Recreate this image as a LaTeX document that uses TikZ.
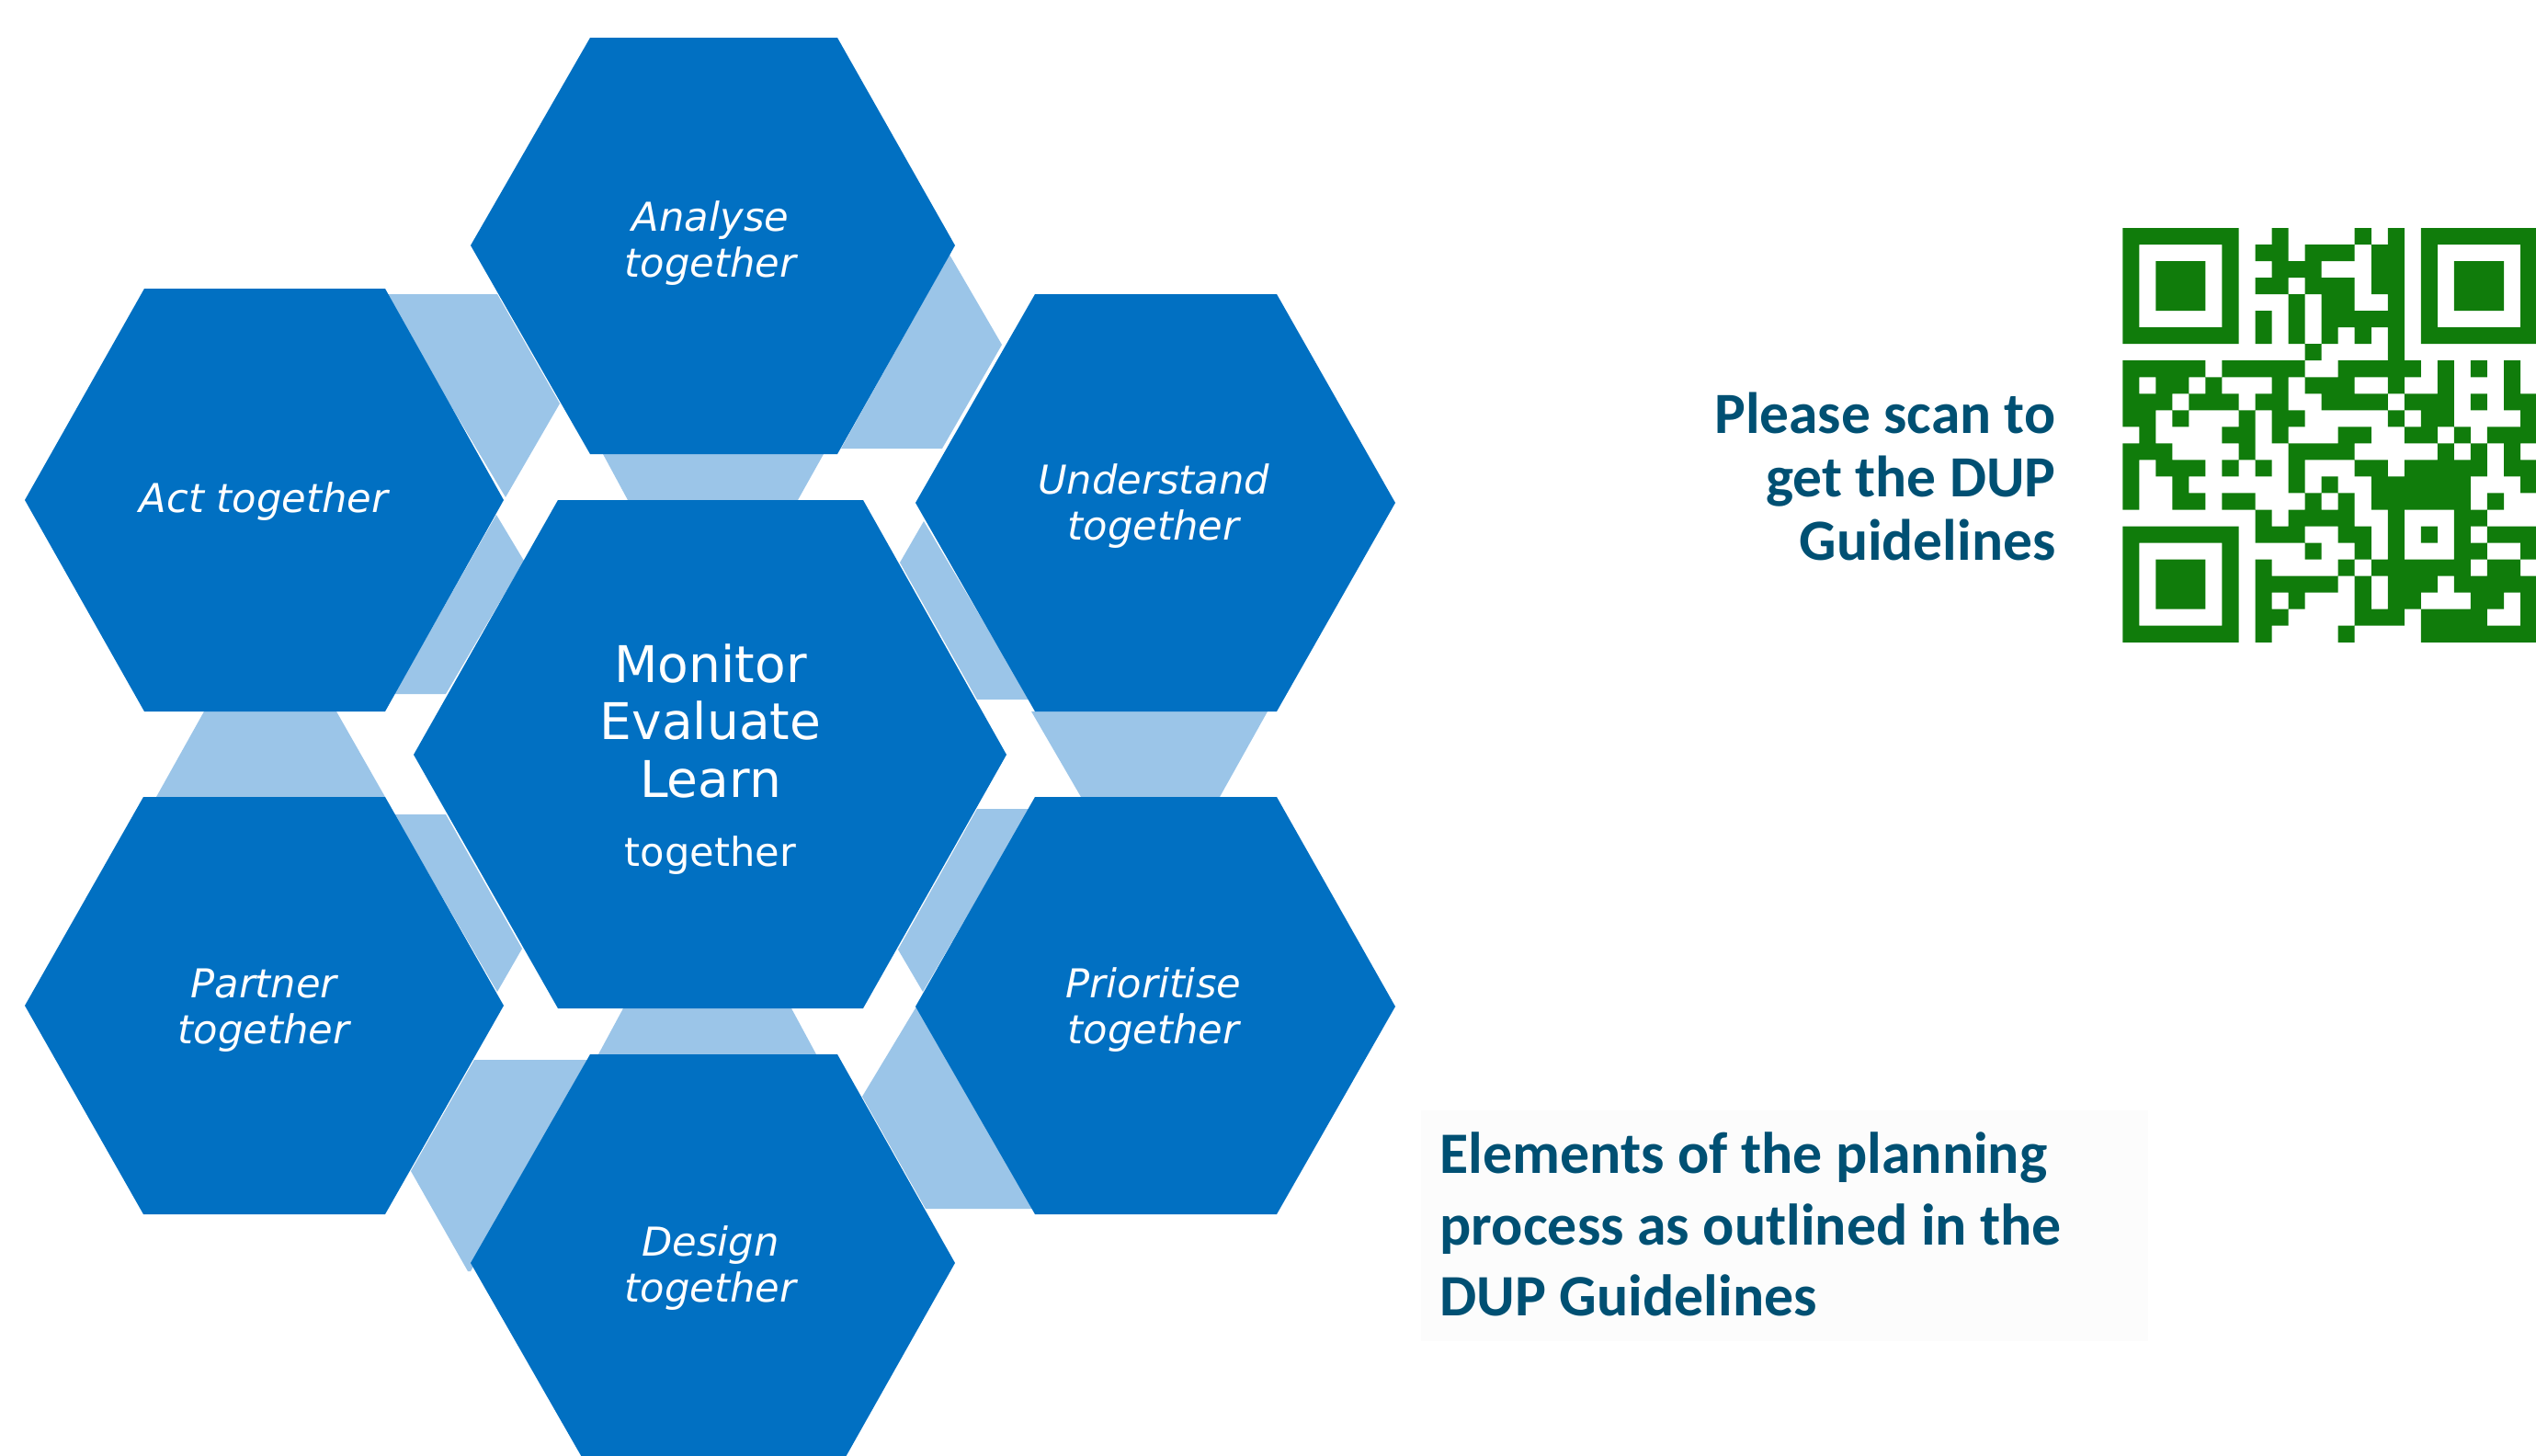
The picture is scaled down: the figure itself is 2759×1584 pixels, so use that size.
\documentclass[tikz,border=0pt]{standalone}
\usepackage{fontspec}
\setmainfont{Carlito}
\newfontfamily\hexfamily{DejaVu Sans}
\definecolor{hexdark}{HTML}{0170C2}
\definecolor{hexlight}{HTML}{9BC5E8}
\definecolor{teal}{HTML}{005073}
\definecolor{qrgreen}{HTML}{107C0B}
\definecolor{notebg}{HTML}{FCFCFC}
\tikzset{
  hexdk/.style={fill=hexdark},
  hexlt/.style={fill=hexlight},
  hexlabel/.style={text=white,anchor=base,align=center,inner sep=0pt,font={\hexfamily\itshape\fontsize{12.3pt}{14.2pt}\selectfont}},
  hexmain/.style={text=white,anchor=base,align=center,inner sep=0pt,font={\hexfamily\fontsize{15.65pt}{17.7pt}\selectfont}},
  hexsub/.style={text=white,anchor=base,inner sep=0pt,font={\hexfamily\fontsize{12.3pt}{14.2pt}\selectfont}},
  scannote/.style={text=teal,anchor=base east,align=right,inner sep=0pt,font={\bfseries\fontsize{18.05pt}{19.6pt}\selectfont}},
  elemnote/.style={text=teal,anchor=base west,align=left,inner sep=0pt,font={\bfseries\fontsize{18.15pt}{21.9pt}\selectfont}}
}
\begin{document}
\begin{tikzpicture}[x=0.01cm,y=-0.01cm]
\useasboundingbox (0,0) rectangle (2759,1584);
\clip (0,0) rectangle (2759,1584);
% light connecting bands
\fill[hexlt] (418,320) -- (541,320) -- (609,439) -- (550,541) -- cycle;
\fill[hexlt] (540,560) -- (570,610) -- (485,755) -- (429,755) -- cycle;
\fill[hexlt] (222,774) -- (366,774) -- (419,867) -- (170,867) -- cycle;
\fill[hexlt] (429,886) -- (485,886) -- (568,1032) -- (541,1079) -- cycle;
\fill[hexlt] (516,1153) -- (640,1153) -- (512,1383) -- (509,1383) -- (447,1274) -- cycle;
\fill[hexlt] (678,1097) -- (861,1097) -- (888,1147) -- (651,1147) -- cycle;
\fill[hexlt] (938,1193) -- (997,1095) -- (1125,1315) -- (1007,1315) -- cycle;
\fill[hexlt] (1063,880) -- (1120,880) -- (1004,1079) -- (977,1033) -- cycle;
\fill[hexlt] (1122,774) -- (1379,774) -- (1327,867) -- (1176,867) -- cycle;
\fill[hexlt] (1005,567) -- (1120,761) -- (1063,761) -- (979,612) -- cycle;
\fill[hexlt] (1033,277) -- (1090,375) -- (1025,488) -- (915,488) -- cycle;
\fill[hexlt] (656,494) -- (896,494) -- (868,544) -- (683,544) -- cycle;
% hexagons
\fill[hexdk] (642,41) -- (911,41) -- (1039,267) -- (911,494) -- (642,494) -- (512,267) -- cycle;
\fill[hexdk] (157,314) -- (419,314) -- (548,544) -- (419,774) -- (157,774) -- (27,544) -- cycle;
\fill[hexdk] (607,544) -- (939,544) -- (1095,821) -- (939,1097) -- (607,1097) -- (450,821) -- cycle;
\fill[hexdk] (156,867) -- (419,867) -- (548,1094) -- (419,1321) -- (156,1321) -- (27,1094) -- cycle;
\fill[hexdk] (642,1147) -- (911,1147) -- (1039,1374) -- (911,1601) -- (642,1601) -- (512,1374) -- cycle;
\fill[hexdk] (1126,320) -- (1389,320) -- (1518,547) -- (1389,774) -- (1126,774) -- (996,547) -- cycle;
\fill[hexdk] (1126,867) -- (1389,867) -- (1518,1095) -- (1389,1321) -- (1126,1321) -- (996,1095) -- cycle;
% hexagon labels (base anchor sits on the last line)
\node[hexlabel] (analyse) at (773,301) {Analyse\\together};
\node[hexlabel] (act) at (287,557) {Act together};
\node[hexlabel] (understand) at (1255,587) {Understand\\together};
\node[hexlabel] (prioritise) at (1255,1135) {Prioritise\\together};
\node[hexlabel] (partner) at (287,1135) {Partner\\together};
\node[hexlabel] (design) at (773,1416) {Design\\together};
\node[hexmain] (monitor) at (773,867) {Monitor\\Evaluate\\Learn};
\node[hexsub] (togethermain) at (773,942) {together};
% side texts
\node[scannote] (scan) at (2237,609) {Please scan to\\get the DUP\\Guidelines};
\fill[notebg] (1546,1208) rectangle (2337,1459);
\node[elemnote] (elements) at (1566,1431) {Elements of the planning\\process as outlined in the\\DUP Guidelines};
% QR code
\fill[qrgreen] \foreach \r/\a/\b in {
0/0/6,0/9/9,0/14/14,0/16/16,0/18/24,
1/0/0,1/6/6,1/8/9,1/11/13,1/15/16,1/18/18,1/24/24,
2/0/0,2/2/4,2/6/6,2/9/11,2/15/16,2/18/18,2/20/22,2/24/24,
3/0/0,3/2/4,3/6/6,3/8/9,3/11/13,3/15/16,3/18/18,3/20/22,3/24/24,
4/0/0,4/2/4,4/6/6,4/10/10,4/12/13,4/16/16,4/18/18,4/20/22,4/24/24,
5/0/0,5/6/6,5/8/8,5/10/10,5/12/16,5/18/18,5/24/24,
6/0/6,6/8/8,6/10/10,6/12/12,6/14/14,6/16/16,6/18/24,
7/11/11,7/16/16,
8/0/4,8/6/10,8/13/17,8/19/19,8/21/21,8/23/23,
9/0/0,9/2/3,9/5/5,9/9/9,9/11/13,9/16/16,9/19/19,9/23/23,
10/0/2,10/4/6,10/8/9,10/12/15,10/17/19,10/21/21,10/23/24,
11/0/1,11/3/3,11/7/7,11/9/10,11/16/16,11/18/19,11/24/24,
12/1/1,12/6/7,12/9/9,12/13/14,12/17/18,12/20/20,12/22/24,
13/0/2,13/7/7,13/10/13,13/19/19,13/21/21,13/23/23,
14/0/0,14/2/4,14/6/6,14/8/8,14/10/10,14/14/15,14/17/21,14/23/24,
15/0/0,15/3/3,15/10/10,15/12/12,15/15/20,15/24/24,
16/0/0,16/3/4,16/6/7,16/11/11,16/13/13,16/15/20,16/22/22,
17/8/8,17/10/13,17/16/16,17/20/21,
18/0/6,18/8/10,18/13/14,18/16/16,18/18/18,18/20/20,18/22/24,
19/0/0,19/6/6,19/11/11,19/14/14,19/16/16,19/20/21,19/24/24,
20/0/0,20/2/4,20/6/6,20/8/8,20/13/13,20/15/20,20/22/23,
21/0/0,21/2/4,21/6/6,21/8/12,21/14/14,21/16/18,21/20/24,
22/0/0,22/2/4,22/6/6,22/8/8,22/10/10,22/14/14,22/16/17,22/21/22,22/24/24,
23/0/0,23/6/6,23/8/9,23/14/16,23/18/21,23/24/24,
24/0/6,24/8/8,24/13/13,24/18/24}
{ ({2309.3+18.03*\a},{248+18.03*\r}) rectangle ({2309.3+18.03*(\b+1)},{248+18.03*(\r+1)}) };
\end{tikzpicture}
\end{document}
